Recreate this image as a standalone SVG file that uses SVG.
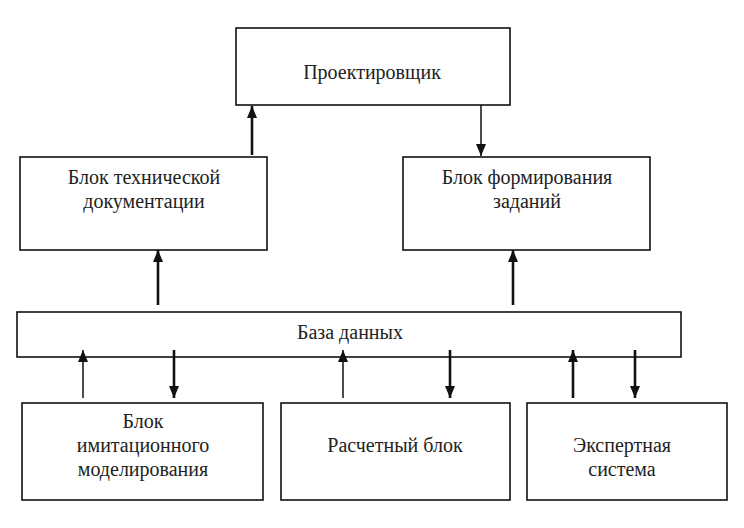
<svg xmlns="http://www.w3.org/2000/svg" width="744" height="528" viewBox="0 0 744 528">
<style>
.box{fill:#fff;stroke:#111;stroke-width:1.6}
.t{font-family:"Liberation Serif","Times New Roman",serif;font-size:20px;fill:#222;text-anchor:middle}
.thick{stroke:#111;stroke-width:2.6;fill:none}
.thin{stroke:#111;stroke-width:1.5;fill:none}
</style>
<defs>
<marker id="ar" viewBox="0 0 12 10" refX="12" refY="5" markerWidth="12" markerHeight="10" markerUnits="userSpaceOnUse" orient="auto">
<path d="M0,0 L12,5 L0,10 Z" fill="#111"/>
</marker>
</defs>
<rect width="744" height="528" fill="#fff"/>
<g id="designer"><rect class="box" x="236" y="28" width="274" height="77"/><text class="t" x="372" y="79">Проектировщик</text></g>
<g id="techdoc"><rect class="box" x="20" y="157" width="247" height="93"/><text class="t" x="144" y="184">Блок технической</text><text class="t" x="144" y="208">документации</text></g>
<g id="tasks"><rect class="box" x="403" y="157" width="247" height="93"/><text class="t" x="527" y="184">Блок формирования</text><text class="t" x="527" y="208">заданий</text></g>
<g id="db"><rect class="box" x="17" y="312" width="664" height="45"/><text class="t" x="350" y="339">База данных</text></g>
<g id="sim"><rect class="box" x="22" y="403" width="241" height="97"/><text class="t" x="143" y="428">Блок</text><text class="t" x="143" y="452">имитационного</text><text class="t" x="143" y="476">моделирования</text></g>
<g id="calc"><rect class="box" x="281" y="403" width="229" height="97"/><text class="t" x="395" y="452">Расчетный блок</text></g>
<g id="expert"><rect class="box" x="527" y="403" width="200" height="97"/><text class="t" x="622" y="452">Экспертная</text><text class="t" x="622" y="476">система</text></g>
<g id="connectors">
<line class="thick" x1="252" y1="155" x2="252" y2="106" marker-end="url(#ar)"/>
<line class="thin" x1="481" y1="105" x2="481" y2="156" marker-end="url(#ar)"/>
<line class="thick" x1="158" y1="305" x2="158" y2="250" marker-end="url(#ar)"/>
<line class="thick" x1="513" y1="305" x2="513" y2="250" marker-end="url(#ar)"/>
<line class="thin" x1="83" y1="398" x2="83" y2="350" marker-end="url(#ar)"/>
<line class="thick" x1="174" y1="350" x2="174" y2="398" marker-end="url(#ar)"/>
<line class="thin" x1="343" y1="398" x2="343" y2="350" marker-end="url(#ar)"/>
<line class="thick" x1="450" y1="350" x2="450" y2="398" marker-end="url(#ar)"/>
<line class="thick" x1="573" y1="398" x2="573" y2="350" marker-end="url(#ar)"/>
<line class="thick" x1="635" y1="350" x2="635" y2="398" marker-end="url(#ar)"/>
</g>
</svg>
